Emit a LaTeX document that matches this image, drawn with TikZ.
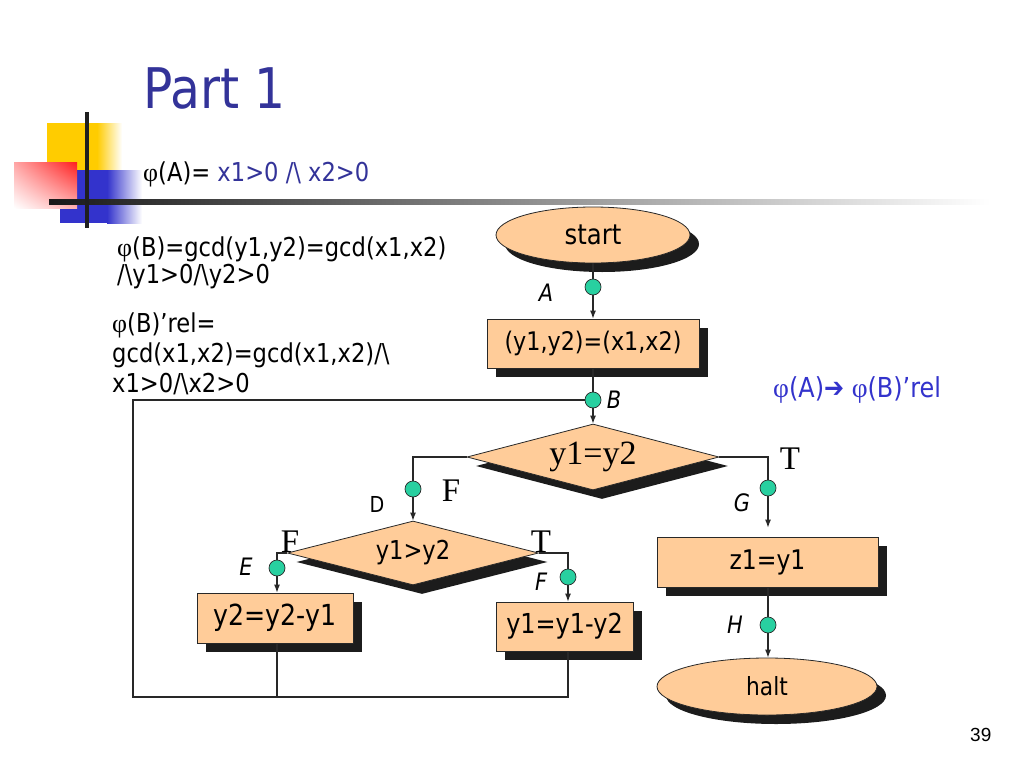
\documentclass[tikz,border=0pt]{standalone}
\usepackage{fontspec}
\setmainfont{DejaVu Sans}[FakeStretch=0.87]
\newfontfamily\serif{Liberation Serif}
\newfontfamily\arial{Liberation Sans}
\usetikzlibrary{shapes.geometric,shadows,shadings,arrows.meta,calc}
\definecolor{peach}{RGB}{255,204,153}
\definecolor{mint}{RGB}{40,208,160}
\definecolor{titleblue}{RGB}{51,51,153}
\definecolor{arrowblue}{RGB}{51,51,204}
\definecolor{lineg}{RGB}{40,40,40}
\definecolor{shad}{RGB}{28,28,28}
\definecolor{decoyel}{RGB}{255,204,0}
\definecolor{decoblue}{RGB}{51,51,204}
\definecolor{decored}{RGB}{255,30,30}
\tikzset{
  flow/.style={draw=lineg, line width=0.8pt, fill=peach,
    general shadow={fill=shad, shadow xshift=9pt, shadow yshift=-9pt}},
  procbox/.style={flow, rectangle, inner sep=0pt},
  term/.style={flow, ellipse, inner sep=0pt},
  decision/.style={flow, diamond, aspect=4, inner sep=0pt},
  probe/.style={circle, draw=lineg, line width=0.7pt, fill=mint, minimum size=16pt, inner sep=0pt},
  conn/.style={draw=lineg, line width=1.1pt},
  arr/.style={conn, -{Latex[length=8pt,width=6pt]}},
  lab/.style={font=\fontsize{24}{28}\selectfont\itshape, inner sep=0pt},
  tf/.style={font=\serif\fontsize{33}{36}\selectfont, inner sep=0pt},
  txt/.style={anchor=base west, inner sep=0pt, font=\fontsize{26}{30}\selectfont},
}
\begin{document}
\begin{tikzpicture}[x=1pt,y=-1pt]
\useasboundingbox (0,0) rectangle (1024,768);
\fill[white] (0,0) rectangle (1024,768);
% decoration
\fill[decoyel] (47,123) rectangle (97,175);
\shade[left color=decoyel, right color=white] (97,123) rectangle (122,175);
\fill[decoblue] (60,170) rectangle (107,223);
\shade[left color=decoblue, right color=white] (107,170) rectangle (142,223);
\shade[upper left=decored!40!white, upper right=decored, lower left=white, lower right=decored!35!white] (14,162) rectangle (77,208);
\shade[left color=black!90, right color=white] (49,199) rectangle (990,204);
\fill[black!88] (85,112) rectangle (89,228);
% texts
\node[anchor=base west, text=titleblue, font=\fontsize{56}{60}\selectfont, inner sep=0pt] (title) at (143,108) {Part 1};
\node[txt] (phiA) at (143,181) {{\serif φ}(A)= \textcolor{titleblue}{x1>0 /\textbackslash{} x2>0}};
\node[txt] (l1) at (117,256) {{\serif φ}(B)=gcd(y1,y2)=gcd(x1,x2)};
\node[txt] (l2) at (117,283) {/\textbackslash y1>0/\textbackslash y2>0};
\node[txt] (l3) at (112,332) {{\serif φ}(B)’rel=};
\node[txt] (l4) at (112,362) {gcd(x1,x2)=gcd(x1,x2)/\textbackslash};
\node[txt] (l5) at (112,392) {x1>0/\textbackslash x2>0};
\node[txt, text=arrowblue, font=\fontsize{27.5}{30}\selectfont] (impl) at (773,397) {{\serif φ}(A)\textbf{➔} {\serif φ}(B)’rel};
\node[anchor=base west, inner sep=0pt, font=\arial\fontsize{19}{22}\selectfont] (pg) at (970,741) {39};
% flowchart nodes
\node[term, minimum width=194pt, minimum height=56pt, font=\fontsize{28}{30}\selectfont] (start) at (593,235) {start};
\node[probe] (A) at (593,287) {};
\node[lab] (Alab) at (546,293) {A};
\node[procbox, minimum width=212pt, minimum height=49pt, font=\fontsize{25.6}{30}\selectfont] (init) at (593,343.5) {(y1,y2)=(x1,x2)};
\node[probe] (B) at (593,400) {};
\node[lab] (Blab) at (614,400) {B};
\node[decision, minimum width=252pt, minimum height=66pt, font=\serif\fontsize{34}{36}\selectfont] (d1) at (593,457) {y1=y2};
\node[probe] (D) at (413,489) {};
\node[inner sep=0pt, font=\fontsize{22}{24}\selectfont] (Dlab) at (377,504) {D};
\node[tf] (f1) at (451,491) {F};
\node[tf] (t1) at (790,459) {T};
\node[decision, minimum width=251pt, minimum height=64pt, font=\fontsize{26}{30}\selectfont] (d2) at (413,553) {y1>y2};
\node[tf] (f2) at (290,542) {F};
\node[tf] (t2) at (541,542) {T};
\node[probe] (E) at (277,568) {};
\node[lab] (Elab) at (246,567) {E};
\node[procbox, minimum width=156pt, minimum height=50pt, font=\fontsize{29}{30}\selectfont] (s2) at (275,618) {y2=y2-y1};
\node[probe] (F) at (568,577) {};
\node[lab] (Flab) at (541,582) {F};
\node[procbox, minimum width=137pt, minimum height=49pt, font=\fontsize{27.5}{30}\selectfont] (s1) at (564.5,626.5) {y1=y1-y2};
\node[probe] (G) at (768,488) {};
\node[lab] (Glab) at (742,503) {G};
\node[procbox, minimum width=221pt, minimum height=50pt, font=\fontsize{27}{30}\selectfont] (z) at (767.5,562) {z1=y1};
\node[probe] (H) at (768,625) {};
\node[lab] (Hlab) at (735,625) {H};
\node[term, minimum width=220pt, minimum height=57pt, font=\fontsize{25}{30}\selectfont] (halt) at (767,686.5) {halt};
% connectors
\coordinate (lp1) at (133,400);
\coordinate (lp2) at (133,697);
\draw[conn] (start.south) -- (A);
\draw[arr] (A) -- (init.north);
\draw[conn] (init.south) -- (B);
\draw[arr] (B) -- (d1.north);
\draw[conn] (d1.west) -| (D);
\draw[arr] (D) -- (d2.north);
\draw[conn] (d1.east) -| (G);
\draw[arr] (G) -- ($(G |- z.north)+(0,-9)$);
\draw[conn] (z.south -| H) -- (H);
\draw[arr] (H) -- (H |- halt.north);
\draw[conn] (d2.west) -| (E);
\draw[arr] (E) -- (E |- s2.north);
\draw[conn] (d2.east) -| (F);
\draw[arr] (F) -- (F |- s1.north);
\draw[conn] (s2.south -| E) -- (E |- lp2);
\draw[conn] (s1.south -| F) -- (F |- lp2) -- (lp2) -- (lp1) -- (B);
\end{tikzpicture}
\end{document}
